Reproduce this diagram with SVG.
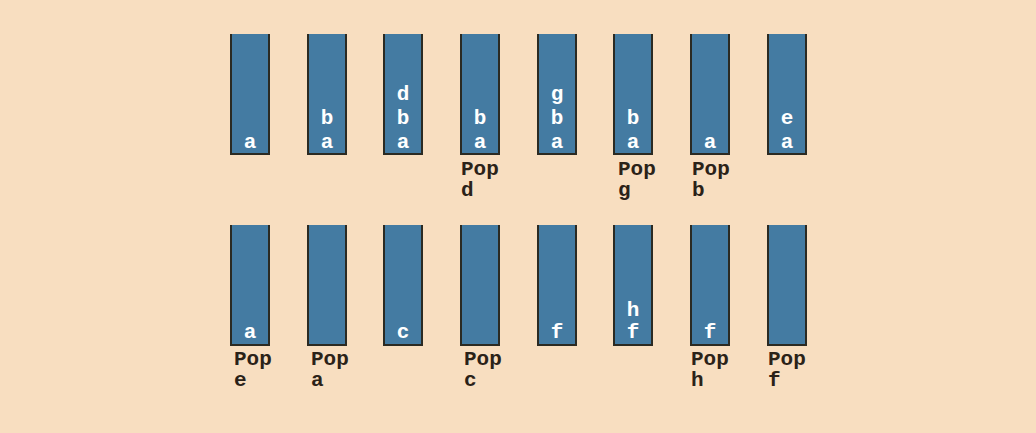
<svg xmlns="http://www.w3.org/2000/svg" width="1036" height="433" viewBox="0 0 1036 433">
<style>
.bg{fill:#F8DEC0}
.bar{fill:#447BA2}
.edge{fill:none;stroke:#2B2A22;stroke-width:2}
.in{font-family:"Liberation Mono","Courier New",monospace;font-weight:bold;font-size:21px;fill:#FFFFFF;text-anchor:middle}
.lb{font-family:"Liberation Mono","Courier New",monospace;font-weight:bold;font-size:21px;fill:#2B2218}
</style>
<defs>
<g id="b1"><rect class="bar" x="0" y="0" width="40" height="121"/><path class="edge" d="M1,0 V120 H39 V0"/></g>
</defs>
<rect class="bg" x="0" y="0" width="1036" height="433"/>
<g id="connectors"></g>
<g id="s1"><use href="#b1" x="230" y="34"/><text class="in" x="250" y="148">a</text></g>
<g id="s2"><use href="#b1" x="307" y="34"/><text class="in" x="327" y="148">a</text><text class="in" x="327" y="124">b</text></g>
<g id="s3"><use href="#b1" x="383" y="34"/><text class="in" x="403" y="148">a</text><text class="in" x="403" y="124">b</text><text class="in" x="403" y="100">d</text></g>
<g id="s4"><use href="#b1" x="460" y="34"/><text class="in" x="480" y="148">a</text><text class="in" x="480" y="124">b</text><text class="lb" x="461" y="175">Pop</text><text class="lb" x="461" y="196">d</text></g>
<g id="s5"><use href="#b1" x="537" y="34"/><text class="in" x="557" y="148">a</text><text class="in" x="557" y="124">b</text><text class="in" x="557" y="100">g</text></g>
<g id="s6"><use href="#b1" x="613" y="34"/><text class="in" x="633" y="148">a</text><text class="in" x="633" y="124">b</text><text class="lb" x="618" y="175">Pop</text><text class="lb" x="618" y="196">g</text></g>
<g id="s7"><use href="#b1" x="690" y="34"/><text class="in" x="710" y="148">a</text><text class="lb" x="692" y="175">Pop</text><text class="lb" x="692" y="196">b</text></g>
<g id="s8"><use href="#b1" x="767" y="34"/><text class="in" x="787" y="148">a</text><text class="in" x="787" y="124">e</text></g>
<g id="t1"><use href="#b1" x="230" y="225"/><text class="in" x="250" y="338">a</text><text class="lb" x="234" y="365">Pop</text><text class="lb" x="234" y="386">e</text></g>
<g id="t2"><use href="#b1" x="307" y="225"/><text class="lb" x="311" y="365">Pop</text><text class="lb" x="311" y="386">a</text></g>
<g id="t3"><use href="#b1" x="383" y="225"/><text class="in" x="403" y="338">c</text></g>
<g id="t4"><use href="#b1" x="460" y="225"/><text class="lb" x="464" y="365">Pop</text><text class="lb" x="464" y="386">c</text></g>
<g id="t5"><use href="#b1" x="537" y="225"/><text class="in" x="557" y="338">f</text></g>
<g id="t6"><use href="#b1" x="613" y="225"/><text class="in" x="633" y="338">f</text><text class="in" x="633" y="316">h</text></g>
<g id="t7"><use href="#b1" x="690" y="225"/><text class="in" x="710" y="338">f</text><text class="lb" x="691" y="365">Pop</text><text class="lb" x="691" y="386">h</text></g>
<g id="t8"><use href="#b1" x="767" y="225"/><text class="lb" x="768" y="365">Pop</text><text class="lb" x="768" y="386">f</text></g>
</svg>
